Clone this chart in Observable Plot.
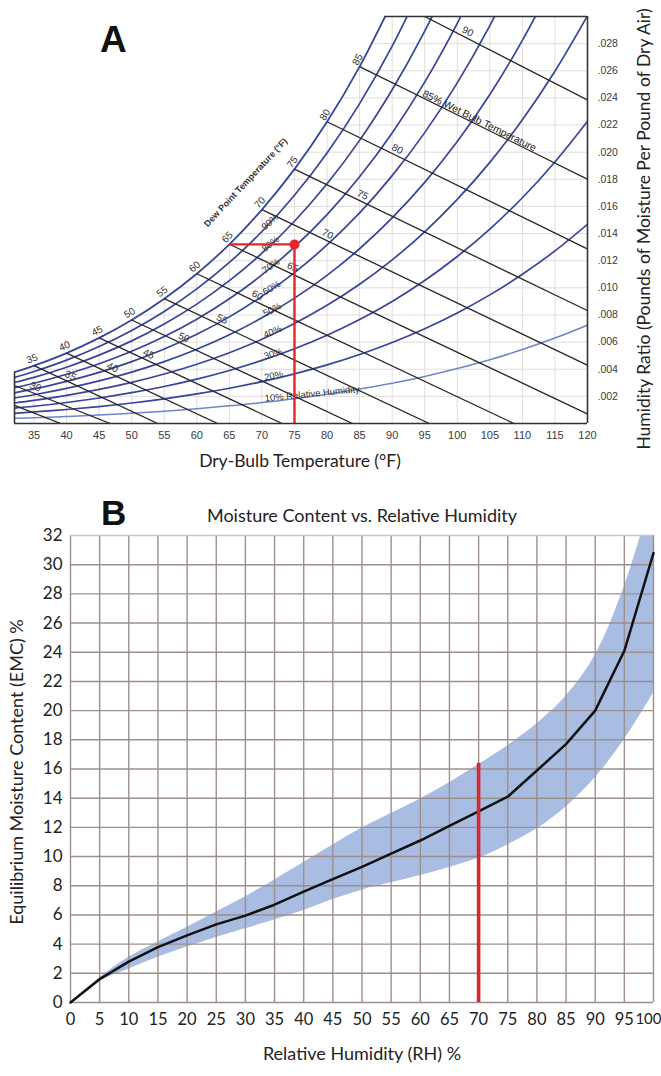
<!DOCTYPE html>
<html><head><meta charset="utf-8">
<script src="https://cdn.jsdelivr.net/npm/d3@7"></script>
<script src="https://cdn.jsdelivr.net/npm/@observablehq/plot@0.6"></script>
<style>
body{margin:0;background:#fff;}
#wrap{position:relative;width:661px;height:1076px;overflow:hidden;background:#fff;color:#222;}
.abs{position:absolute;white-space:nowrap;line-height:1;}
#pa{position:absolute;left:0;top:0;}
#pb{position:absolute;left:0;top:480px;}
.lato{font-family:Lato,"Open Sans",sans-serif;}
</style></head><body>
<div id="wrap">
  <div id="pa"></div>
  <div id="pb"></div>
  <div class="abs" style="left:100px;top:19px;font:bold 37px 'Liberation Sans',Arial,sans-serif;color:#111;">A</div>
  <div class="abs" style="left:101px;top:493px;font:bold 35px 'Liberation Sans',Arial,sans-serif;color:#111;">B</div>
  <div class="abs lato" style="left:300px;top:452px;font-size:17.5px;transform:translateX(-50%);">Dry-Bulb Temperature (°F)</div>
  <div class="abs lato" style="left:644px;top:229px;font-size:17.5px;transform:translate(-50%,-50%) rotate(-90deg);">Humidity Ratio (Pounds of Moisture Per Pound of Dry Air)</div>
  <div class="abs lato" style="left:362px;top:506px;font-size:18px;transform:translateX(-50%);">Moisture Content vs. Relative Humidity</div>
  <div class="abs lato" style="left:16px;top:772px;font-size:18px;transform:translate(-50%,-50%) rotate(-90deg);">Equilibrium Moisture Content (EMC) %</div>
  <div class="abs lato" style="left:362px;top:1044px;font-size:18px;transform:translateX(-50%);">Relative Humidity (RH) %</div>
</div>
<script>
// ---------- Panel A data: psychrometric chart ----------
const temps = [32, 35, 40, 45, 50, 55, 60, 65, 70, 75, 80, 85, 90, 95, 100, 105, 110, 115, 120];
const rhLevels = [10, 20, 30, 40, 50, 60, 70, 80, 90];
const w10 = [0.00038, 0.00042, 0.00052, 0.00063, 0.00076, 0.00091, 0.00109, 0.00130, 0.00154, 0.00183, 0.00216, 0.00254, 0.00297, 0.00347, 0.00405, 0.00470, 0.00545, 0.00630, 0.00725];
const w20 = [0.00075, 0.00085, 0.00103, 0.00125, 0.00151, 0.00182, 0.00218, 0.00260, 0.00309, 0.00366, 0.00432, 0.00509, 0.00597, 0.00699, 0.00815, 0.00948, 0.01100, 0.01272, 0.01468];
const w30 = [0.00113, 0.00127, 0.00155, 0.00188, 0.00227, 0.00273, 0.00327, 0.00391, 0.00465, 0.00551, 0.00651, 0.00767, 0.00900, 0.01054, 0.01231, 0.01433, 0.01664, 0.01928, 0.02228];
const w40 = [0.00151, 0.00170, 0.00207, 0.00251, 0.00303, 0.00365, 0.00437, 0.00522, 0.00621, 0.00737, 0.00871, 0.01026, 0.01206, 0.01413, 0.01652, 0.01925, 0.02239, 0.02597, 0.03006];
const w50 = [0.00188, 0.00212, 0.00259, 0.00314, 0.00379, 0.00456, 0.00547, 0.00654, 0.00779, 0.00924, 0.01092, 0.01288, 0.01515, 0.01777, 0.02078, 0.02425, 0.02824, 0.03280];
const w60 = [0.00226, 0.00255, 0.00311, 0.00377, 0.00456, 0.00549, 0.00658, 0.00786, 0.00937, 0.01112, 0.01316, 0.01552, 0.01827, 0.02144, 0.02511, 0.02933, 0.03419];
const w70 = [0.00264, 0.00297, 0.00363, 0.00440, 0.00532, 0.00641, 0.00769, 0.00919, 0.01095, 0.01301, 0.01540, 0.01819, 0.02142, 0.02516, 0.02949, 0.03449];
const w80 = [0.00302, 0.00340, 0.00415, 0.00504, 0.00609, 0.00734, 0.00880, 0.01053, 0.01255, 0.01491, 0.01767, 0.02087, 0.02460, 0.02892, 0.03393];
const w90 = [0.00340, 0.00383, 0.00467, 0.00567, 0.00686, 0.00826, 0.00992, 0.01187, 0.01415, 0.01682, 0.01994, 0.02358, 0.02781, 0.03273];
const wSat = [0.00378, 0.00426, 0.00519, 0.00631, 0.00763, 0.00920, 0.01104, 0.01321, 0.01577, 0.01875, 0.02224, 0.02631, 0.03105];

// wet-bulb lines (°F): start and end points
const wbTemps  = [25, 30, 35, 40, 45, 50, 55, 60, 65, 70, 75, 80, 85, 90];
const wbStartT = [32, 32, 35, 40, 45, 50, 55, 60, 65, 70, 75, 80, 85, 95];
const wbStartW = [0.00133, 0.0028, 0.00426, 0.00519, 0.00631, 0.00763, 0.0092, 0.01104, 0.01321, 0.01577, 0.01875, 0.02224, 0.02631, 0.030];
const wbEndT   = [39.1, 46.7, 54, 63.2, 73.1, 83.9, 95.7, 108.7, 120, 120, 120, 120, 120, 120];
const wbEndW   = [0, 0, 0, 0, 0, 0, 0, 0, 0.0007, 0.00429, 0.00832, 0.01287, 0.01801, 0.02384];
const wbLabelT = [null, 35.2, 40.6, 47.05, 52.6, 58, 63.9, 69.3, 74.7, 80.1, 85.45, 90.8, null, 101.6];

const satLabelTemps = [35, 40, 45, 50, 55, 60, 65, 70, 75, 80, 85];
const xTicksA = [35, 40, 45, 50, 55, 60, 65, 70, 75, 80, 85, 90, 95, 100, 105, 110, 115, 120];
const yTicksA = [0.002, 0.004, 0.006, 0.008, 0.010, 0.012, 0.014, 0.016, 0.018, 0.020, 0.022, 0.024, 0.026, 0.028];
const gridXA = [35, 40, 45, 50, 55, 60, 65, 70, 75, 80, 85, 90, 95, 100, 105, 110, 115];

// example point: 75 °F dry bulb, 65 °F dew point
const exampleT = 75, exampleDewT = 65, exampleW = 0.0132;

// ---------- Panel B data: EMC vs RH ----------
const rhB = [0, 5, 10, 15, 20, 25, 30, 35, 40, 45, 50, 55, 60, 65, 70, 75, 80, 85, 90, 95, 100];
const emc = [0, 1.6, 2.8, 3.8, 4.6, 5.35, 5.95, 6.7, 7.6, 8.45, 9.3, 10.2, 11.1, 12.1, 13.1, 14.1, 15.9, 17.7, 20.0, 24.1, 30.8];
const bandLow  = [0, 1.45, 2.3, 3.1, 3.8, 4.45, 5.05, 5.65, 6.3, 7.05, 7.7, 8.2, 8.7, 9.25, 9.9, 10.8, 11.9, 13.4, 15.4, 18.0, 21.2];
const bandHigh = [0, 1.7, 3.1, 4.15, 5.15, 6.2, 7.25, 8.4, 9.6, 10.8, 11.95, 12.95, 13.95, 15.05, 16.3, 17.6, 19.1, 21.0, 23.8, 28.5, 35];
const xTicksB = [0, 5, 10, 15, 20, 25, 30, 35, 40, 45, 50, 55, 60, 65, 70, 75, 80, 85, 90, 95, 100];
const yTicksB = [0, 2, 4, 6, 8, 10, 12, 14, 16, 18, 20, 22, 24, 26, 28, 30, 32];
const markerRH = 70, markerTop = 16.4;

// ---------- Build panel A ----------
const A = {width: 661, height: 480, mt: 16, mb: 57, ml: 14, mr: 74};
const pxT = (A.width - A.ml - A.mr) / (120 - 32);
const pxW = (A.height - A.mt - A.mb) / 0.030;
const ang = (dw, dT) => Math.atan((dw * pxW) / (dT * pxT)) * 180 / Math.PI;

const rhSeries = [w10, w20, w30, w40, w50, w60, w70, w80, w90];
const rhRows = rhSeries.flatMap((arr, k) => arr.map((w, i) => ({T: temps[i], W: w, rh: rhLevels[k]})));
const satRows = wSat.map((w, i) => ({T: temps[i], W: w}));
const wbIdx = wbTemps.map((_, i) => i);
const wbAt = (i, T) => wbStartW[i] + (wbEndW[i] - wbStartW[i]) * (T - wbStartT[i]) / (wbEndT[i] - wbStartT[i]);
const wbLabels = wbIdx.filter(i => wbLabelT[i] != null).map(i => ({
  T: wbLabelT[i], W: wbAt(i, wbLabelT[i]), text: String(wbTemps[i]),
  a: ang(wbStartW[i] - wbEndW[i], wbEndT[i] - wbStartT[i])
}));
const i85 = wbTemps.indexOf(85);
const wbTitle = [{T: 103.4, W: wbAt(i85, 103.4), text: "85% Wet Bulb Temperature", a: ang(wbStartW[i85] - wbEndW[i85], wbEndT[i85] - wbStartT[i85])}];
const satLabels = satLabelTemps.map(t => {
  const i = temps.indexOf(t);
  return {T: t, W: wSat[i], text: String(t), a: -ang(wSat[i + 1] - wSat[i - 1], temps[i + 1] - temps[i - 1])};
});
const iLab = temps.indexOf(70);
const rhLabels = rhLevels.map((lvl, k) => ({
  T: temps[iLab], W: rhSeries[k][iLab],
  text: lvl === 10 ? "10% Relative Humidity" : lvl + "%",
  a: -ang(rhSeries[k][iLab + 1] - rhSeries[k][iLab - 1], temps[iLab + 1] - temps[iLab - 1]) * 0.9
}));
// where saturation curve meets the top of the chart
const iTop = wSat.findIndex(w => w > 0.030);
const topT = temps[iTop - 1] + (temps[iTop] - temps[iTop - 1]) * (0.030 - wSat[iTop - 1]) / (wSat[iTop] - wSat[iTop - 1]);

const blue = "#36449a", lightBlue = "#6f86c6", gridA = "#e2dcdc", dark = "#262626";

const plotA = Plot.plot({
  width: A.width, height: A.height,
  marginTop: A.mt, marginBottom: A.mb, marginLeft: A.ml, marginRight: A.mr,
  style: {fontFamily: "'Liberation Sans', Arial, sans-serif", fontSize: "11px", color: "#333", background: "transparent"},
  x: {domain: [32, 120]},
  y: {domain: [0, 0.030]},
  marks: [
    Plot.ruleX(gridXA, {y1: 0, y2: 0.030, stroke: gridA, strokeWidth: 1}),
    Plot.ruleY(yTicksA, {x1: 32, x2: 120, stroke: gridA, strokeWidth: 1}),
    Plot.areaY(satRows, {x: "T", y1: "W", y2: 0.030, fill: "white", curve: "catmull-rom", clip: true}),
    Plot.line(rhRows.filter(d => d.rh === 10), {x: "T", y: "W", stroke: lightBlue, strokeWidth: 1.5, curve: "catmull-rom", clip: true}),
    Plot.line(rhRows.filter(d => d.rh > 10), {x: "T", y: "W", z: "rh", stroke: blue, strokeWidth: 1.7, curve: "catmull-rom", clip: true}),
    Plot.line(satRows, {x: "T", y: "W", stroke: blue, strokeWidth: 1.8, curve: "catmull-rom", clip: true}),
    Plot.link(wbIdx, {x1: i => wbStartT[i], y1: i => wbStartW[i], x2: i => wbEndT[i], y2: i => wbEndW[i], stroke: dark, strokeWidth: 1.3, clip: true}),
    // frame
    Plot.ruleY([0], {x1: 32, x2: 120, stroke: "#333", strokeWidth: 1.6}),
    Plot.ruleX([120], {y1: 0, y2: 0.030, stroke: "#333", strokeWidth: 1.6}),
    Plot.ruleX([32], {y1: 0, y2: wSat[0], stroke: "#333", strokeWidth: 1.6}),
    Plot.ruleY([0.030], {x1: topT, x2: 120, stroke: "#333", strokeWidth: 1.6}),
    // labels
    Plot.text(satLabels, {x: "T", y: "W", text: "text", rotate: "a", dx: -2, dy: -7, fontSize: 10, fill: "#333"}),
    Plot.text(wbLabels, {x: "T", y: "W", text: "text", rotate: "a", dy: -7, fontSize: 10, fill: "#333"}),
    Plot.text(wbTitle, {x: "T", y: "W", text: "text", rotate: "a", dy: -5, fontSize: 10.3, fill: "#222"}),
    Plot.text(rhLabels, {x: "T", y: "W", text: "text", rotate: "a", dx: 3, dy: -1, textAnchor: "start", lineAnchor: "bottom", fontSize: 9.5, fill: "#333"}),
    Plot.text([{T: 67.5, W: 0.01776}], {x: "T", y: "W", text: () => "Dew Point Temperature (°F)", rotate: -47, fontSize: 9, fontWeight: "bold", fill: "#333"}),
    // example point
    Plot.ruleY([exampleW], {x1: exampleDewT, x2: exampleT, stroke: "#e3262b", strokeWidth: 2.4}),
    Plot.ruleX([exampleT], {y1: 0, y2: exampleW, stroke: "#e3262b", strokeWidth: 2.4}),
    Plot.dot([{T: exampleT, W: exampleW}], {x: "T", y: "W", r: 5, fill: "#e3262b", stroke: "none"}),
    // axes
    Plot.axisX(xTicksA, {tickSize: 0, tickPadding: 8, fontSize: 11, fill: "#3a3a3a", label: null}),
    Plot.axisY(yTicksA, {anchor: "right", tickSize: 0, tickPadding: 10, fontSize: 10.5, fill: "#3a3a3a", label: null,
      tickFormat: d => d.toFixed(3).replace(/^0/, "")})
  ]
});
document.getElementById("pa").appendChild(plotA);

// ---------- Build panel B ----------
const bRows = rhB.map((r, i) => ({rh: r, emc: emc[i], lo: bandLow[i], hi: bandHigh[i]}));
const lastTick = xTicksB[xTicksB.length - 1];
const plotB = Plot.plot({
  width: 661, height: 596,
  marginTop: 55, marginBottom: 74, marginLeft: 70, marginRight: 8,
  style: {fontFamily: "Lato, 'Open Sans', sans-serif", fontSize: "16.5px", color: "#222", background: "transparent"},
  x: {domain: [0, 100]},
  y: {domain: [0, 32]},
  marks: [
    Plot.areaY(bRows, {x: "rh", y1: "lo", y2: "hi", fill: "#a9bde2", curve: "catmull-rom", clip: true}),
    Plot.ruleX(xTicksB, {stroke: "#9c8f8c", strokeWidth: 1.4}),
    Plot.ruleY(yTicksB.slice(0, -1), {stroke: "#9c8f8c", strokeWidth: 1.4}),
    Plot.ruleY(yTicksB.slice(-1), {stroke: "#c9c4c3", strokeWidth: 1.4}),
    Plot.line(bRows, {x: "rh", y: "emc", stroke: "#111", strokeWidth: 2.5}),
    Plot.ruleX([markerRH], {y1: 0, y2: markerTop, stroke: "#d6282c", strokeWidth: 3.6}),
    Plot.axisX(xTicksB.slice(0, -1), {tickSize: 0, tickPadding: 11, label: null}),
    Plot.axisX([lastTick], {tickSize: 0, tickPadding: 11, label: null, textAnchor: "end", dx: 8, fontSize: 15}),
    Plot.axisY(yTicksB, {tickSize: 0, tickPadding: 8, label: null, fontSize: 17})
  ]
});
document.getElementById("pb").appendChild(plotB);
</script>
</body></html>
